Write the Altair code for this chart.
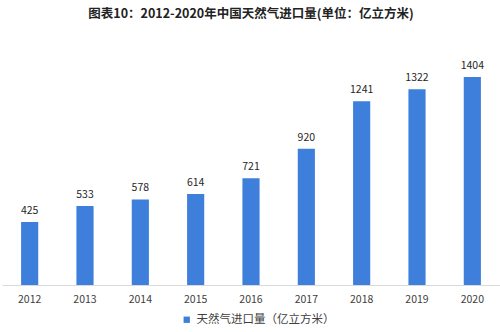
import altair as alt
import pandas as pd

years = ["2012", "2013", "2014", "2015", "2016", "2017", "2018", "2019", "2020"]
values = [425, 533, 578, 614, 721, 920, 1241, 1322, 1404]
series = "天然气进口量（亿立方米）"

df = pd.DataFrame({"year": years, "value": values, "series": [series] * len(years)})

FONT = "Noto Sans CJK SC"
BLUE = "#3d7fdb"

base = alt.Chart(df).encode(
    x=alt.X("year:N", sort=years,
            scale=alt.Scale(paddingInner=0.69, paddingOuter=0.345),
            axis=alt.Axis(title=None, labelAngle=0, ticks=False, domainColor="#d9d9d9",
                          labelFontSize=10.5, labelColor="#404040", labelFont=FONT,
                          labelPadding=9, grid=False)),
    y=alt.Y("value:Q", scale=alt.Scale(domain=[0, 1654], nice=False),
            axis=None),
)

bars = base.mark_bar(color=BLUE).encode(
    color=alt.Color("series:N", scale=alt.Scale(range=[BLUE]),
                    legend=alt.Legend(title=None, orient="none", direction="horizontal",
                                      legendX=179, legendY=274,
                                      symbolType="square", symbolSize=40,
                                      symbolFillColor="#4a7fcf", symbolStrokeWidth=0,
                                      labelFontSize=11.5, labelFont=FONT, labelColor="#404040",
                                      padding=0))
)

labels = base.mark_text(dy=-11, fontSize=10.5, font=FONT, color="#262626").encode(
    text=alt.Text("value:Q")
)

chart = (bars + labels).properties(
    width=498,
    height=245,
    title=alt.Title("图表10：2012-2020年中国天然气进口量(单位：亿立方米)",
                    font=FONT, fontSize=12.5, fontWeight="bold", color="#222222",
                    anchor="middle", offset=20),
    autosize=alt.AutoSizeParams(type="none"),
    padding={"left": 2, "top": 40, "right": 0, "bottom": 47},
).configure(background="white").configure_view(strokeWidth=0, stroke="transparent")

chart.save("out.html", embed_options={"renderer": "svg", "actions": False})
